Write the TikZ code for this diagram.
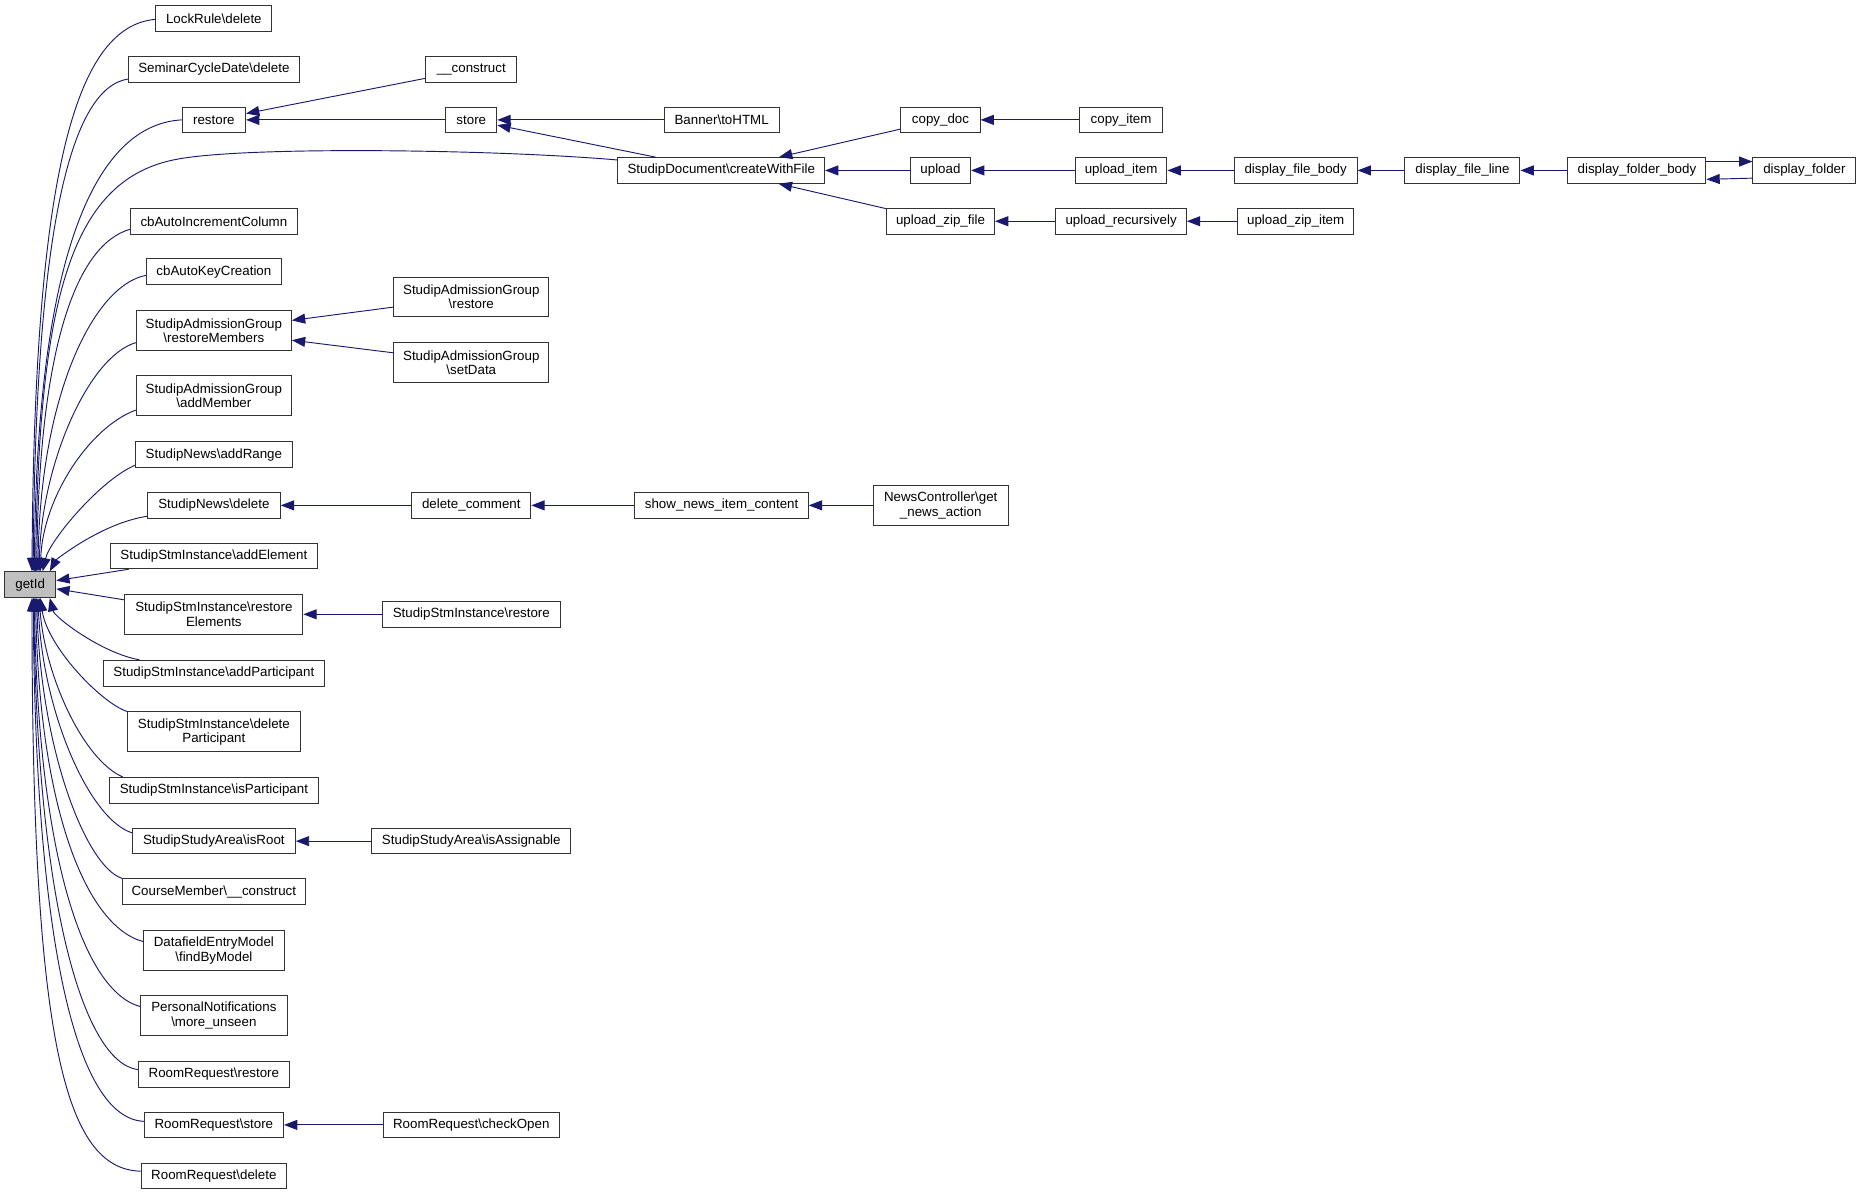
\documentclass[tikz,border=0pt]{standalone}
\usepackage{fontspec}
\setmainfont{Liberation Sans}
\usetikzlibrary{positioning,calc,arrows.meta}
\definecolor{edgeblue}{HTML}{191970}
\definecolor{focusgray}{HTML}{BFBFBF}
\newlength{\unitpx}
\setlength{\unitpx}{0.8902pt}

\begin{document}
\begin{tikzpicture}[
    x=0.8902pt, y=-0.8902pt,
    fnbox/.style={draw=black!80, line width=0.75pt, fill=white, inner sep=0pt,
        minimum height=21.6\unitpx, align=center, font=\fontsize{10}{10.7}\selectfont},
    twoline/.style={minimum height=33.5\unitpx},
    focus/.style={fill=focusgray},
    calls/.style={-{Triangle[length=10pt,width=7.5pt]}, line width=0.7pt, edgeblue}
]
    \fill[white] (0,0) rectangle (1568,1007);

    % Focus node
    \node[fnbox, focus, minimum width=43\unitpx] (getId) at (25.45,492.6) {getId};

    % Direct callers
    \node[fnbox, minimum width=97.6\unitpx] (lockrule) at (180.2,15.6) {LockRule\textbackslash delete};
    \node[fnbox, minimum width=143.9\unitpx] (semcyc) at (180.2,58.4) {SeminarCycleDate\textbackslash delete};
    \node[fnbox, minimum width=53.3\unitpx] (restore) at (180.2,101) {restore};
    \node[fnbox, minimum width=140.6\unitpx] (cbinc) at (180.2,186.5) {cbAutoIncrementColumn};
    \node[fnbox, minimum width=113.6\unitpx] (cbkey) at (180.2,229) {cbAutoKeyCreation};
    \node[fnbox, twoline, minimum width=130.6\unitpx] (resmem) at (180.2,278.5) {StudipAdmissionGroup\\\textbackslash restoreMembers};
    \node[fnbox, twoline, minimum width=130.6\unitpx] (addmem) at (180.2,333.5) {StudipAdmissionGroup\\\textbackslash addMember};
    \node[fnbox, minimum width=131.9\unitpx] (addrange) at (180.2,383) {StudipNews\textbackslash addRange};
    \node[fnbox, minimum width=111.9\unitpx] (newsdel) at (180.2,425.8) {StudipNews\textbackslash delete};
    \node[fnbox, minimum width=174.6\unitpx] (addel) at (180.2,468.4) {StudipStmInstance\textbackslash addElement};
    \node[fnbox, twoline, minimum width=149.9\unitpx] (restel) at (180.2,517.6) {StudipStmInstance\textbackslash restore\\Elements};
    \node[fnbox, minimum width=185.9\unitpx] (addpart) at (180.2,567.2) {StudipStmInstance\textbackslash addParticipant};
    \node[fnbox, twoline, minimum width=145.6\unitpx] (delpart) at (180.2,616.6) {StudipStmInstance\textbackslash delete\\Participant};
    \node[fnbox, minimum width=176.6\unitpx] (ispart) at (180.2,665.9) {StudipStmInstance\textbackslash isParticipant};
    \node[fnbox, minimum width=137.3\unitpx] (isroot) at (180.2,708.7) {StudipStudyArea\textbackslash isRoot};
    \node[fnbox, minimum width=153.9\unitpx] (cmember) at (180.2,751.3) {CourseMember\textbackslash\_\_construct};
    \node[fnbox, twoline, minimum width=118.6\unitpx] (dfmodel) at (180.2,800.8) {DatafieldEntryModel\\\textbackslash findByModel};
    \node[fnbox, twoline, minimum width=123.6\unitpx] (pnotif) at (180.2,855.7) {PersonalNotifications\\\textbackslash more\_unseen};
    \node[fnbox, minimum width=127.3\unitpx] (rrrestore) at (180.2,905.2) {RoomRequest\textbackslash restore};
    \node[fnbox, minimum width=117.3\unitpx] (rrstore) at (180.2,947.8) {RoomRequest\textbackslash store};
    \node[fnbox, minimum width=122.6\unitpx] (rrdelete) at (180.2,990.8) {RoomRequest\textbackslash delete};

    % Second level
    \node[fnbox, minimum width=76.6\unitpx] (construct) at (397.1,58.4) {\_\_construct};
    \node[fnbox, minimum width=43\unitpx] (store) at (397.1,101) {store};
    \node[fnbox, twoline, minimum width=130.6\unitpx] (agrestore) at (397.1,250.2) {StudipAdmissionGroup\\\textbackslash restore};
    \node[fnbox, twoline, minimum width=130.6\unitpx] (agsetdata) at (397.1,305.4) {StudipAdmissionGroup\\\textbackslash setData};
    \node[fnbox, minimum width=100.3\unitpx] (delcomment) at (397.1,425.8) {delete\_comment};
    \node[fnbox, minimum width=149.9\unitpx] (stmrestore) at (397.1,517.6) {StudipStmInstance\textbackslash restore};
    \node[fnbox, minimum width=167.9\unitpx] (isassign) at (397.1,708.7) {StudipStudyArea\textbackslash isAssignable};
    \node[fnbox, minimum width=148.6\unitpx] (checkopen) at (397.1,947.8) {RoomRequest\textbackslash checkOpen};

    % Third level and beyond
    \node[fnbox, minimum width=96.8\unitpx] (banner) at (608,101) {Banner\textbackslash toHTML};
    \node[fnbox, minimum width=174.1\unitpx] (cwf) at (607.7,143.6) {StudipDocument\textbackslash createWithFile};
    \node[fnbox, minimum width=146\unitpx] (shownews) at (608,425.8) {show\_news\_item\_content};
    \node[fnbox, minimum width=66.7\unitpx] (copydoc) at (792.4,101) {copy\_doc};
    \node[fnbox, minimum width=50.7\unitpx] (upload) at (792.4,143.6) {upload};
    \node[fnbox, minimum width=91\unitpx] (uploadzip) at (792.4,186.4) {upload\_zip\_file};
    \node[fnbox, twoline, minimum width=113.4\unitpx] (newsctrl) at (792.6,425.8) {NewsController\textbackslash get\\\_news\_action};
    \node[fnbox, minimum width=69.6\unitpx] (copyitem) at (944.6,101) {copy\_item};
    \node[fnbox, minimum width=77.2\unitpx] (uploaditem) at (944.6,143.6) {upload\_item};
    \node[fnbox, minimum width=109.9\unitpx] (uploadrec) at (944.6,186.4) {upload\_recursively};
    \node[fnbox, minimum width=103.5\unitpx] (filebody) at (1091.7,143.6) {display\_file\_body};
    \node[fnbox, minimum width=98.2\unitpx] (zipitem) at (1091.7,186.4) {upload\_zip\_item};
    \node[fnbox, minimum width=96.9\unitpx] (fileline) at (1232.2,143.6) {display\_file\_line};
    \node[fnbox, minimum width=116.2\unitpx] (folderbody) at (1379.2,143.6) {display\_folder\_body};
    \node[fnbox, minimum width=86.7\unitpx] (folder) at (1520.3,143.6) {display\_folder};

    % Calls into getId from above
    \draw[calls] ($(lockrule.west)+(0,0.7)$) .. controls (65,22) and (29,140) .. ($(getId.north)+(1.5,0)$);
    \draw[calls] ($(semcyc.west)+(0,8.2)$) .. controls (60,74) and (30,190) .. ($(getId.north)+(2.5,0)$);
    \draw[calls] (restore.west) .. controls (80,105) and (31,215) .. ($(getId.north)+(3.5,0)$);
    \draw[calls] ($(cwf.west)+(0,-8.8)$) .. controls (420,126) and (210,123) .. (150,134)
                 .. controls (60,150) and (33,250) .. ($(getId.north)+(4.5,0)$);
    \draw[calls] ($(cbinc.west)+(0,6.7)$) .. controls (65,206) and (33,290) .. ($(getId.north)+(5.5,0)$);
    \draw[calls] ($(cbkey.west)+(0,3)$) .. controls (80,240) and (34,330) .. ($(getId.north)+(6.5,0)$);
    \draw[calls] ($(resmem.west)+(0,10.2)$) .. controls (75,300) and (35,390) .. ($(getId.north)+(7.5,0)$);
    \draw[calls] ($(addmem.west)+(0,12)$) .. controls (75,360) and (36,420) .. ($(getId.north)+(8.5,0)$);
    \draw[calls] ($(addrange.west)+(0,9)$) .. controls (85,404) and (42,455) .. ($(getId.north)+(10.5,0)$);
    \draw[calls] ($(newsdel.west)+(0,9.2)$) .. controls (85,441) and (47,472) .. ($(getId.north)+(16.5,0)$);

    % Calls into getId from the side
    \draw[calls] (addel) -- (getId);
    \draw[calls] (restel) -- (getId);

    % Calls into getId from below
    \draw[calls] ($(addpart.north west)+(30.7,0)$) .. controls (85,550) and (46,520) .. ($(getId.south)+(16.5,0)$);
    \draw[calls] (delpart.north west) .. controls (85,592) and (40,545) .. ($(getId.south)+(8.5,0)$);
    \draw[calls] ($(ispart.north west)+(12,0)$) .. controls (70,640) and (38,570) .. ($(getId.south)+(7.5,0)$);
    \draw[calls] ($(isroot.west)+(0,-7)$) .. controls (75,690) and (36,600) .. ($(getId.south)+(6.5,0)$);
    \draw[calls] (cmember.north west) .. controls (72,730) and (34,630) .. ($(getId.south)+(5.5,0)$);
    \draw[calls] ($(dfmodel.west)+(0,-7.5)$) .. controls (72,780) and (33,680) .. ($(getId.south)+(4.5,0)$);
    \draw[calls] ($(pnotif.west)+(0,-7.7)$) .. controls (70,835) and (32,720) .. ($(getId.south)+(3.5,0)$);
    \draw[calls] ($(rrrestore.west)+(0,-4)$) .. controls (70,895) and (31,760) .. ($(getId.south)+(3,0)$);
    \draw[calls] ($(rrstore.west)+(0,-3)$) .. controls (65,942) and (30,800) .. ($(getId.south)+(2.5,0)$);
    \draw[calls] ($(rrdelete.west)+(0,-4)$) .. controls (55,985) and (27,880) .. ($(getId.south)+(1.5,0)$);

    % Other calls
    \draw[calls] (construct) -- (restore);
    \draw[calls] (store) -- (restore);
    \draw[calls] (banner) -- (store);
    \draw[calls] (cwf) -- (store);
    \draw[calls] (copydoc) -- (cwf);
    \draw[calls] (upload) -- (cwf);
    \draw[calls] (uploadzip) -- (cwf);
    \draw[calls] (copyitem) -- (copydoc);
    \draw[calls] (uploaditem) -- (upload);
    \draw[calls] (uploadrec) -- (uploadzip);
    \draw[calls] (filebody) -- (uploaditem);
    \draw[calls] (zipitem) -- (uploadrec);
    \draw[calls] (fileline) -- (filebody);
    \draw[calls] (folderbody) -- (fileline);
    \draw[calls] ($(folderbody.east)+(0,-7.5)$) -- ($(folder.west)+(0,-7.5)$);
    \draw[calls] ($(folder.west)+(0,6.5)$) -- ($(folderbody.east)+(0,7.5)$);
    \draw[calls] (agrestore) -- (resmem);
    \draw[calls] (agsetdata) -- (resmem);
    \draw[calls] (delcomment) -- (newsdel);
    \draw[calls] (shownews) -- (delcomment);
    \draw[calls] (newsctrl) -- (shownews);
    \draw[calls] (stmrestore) -- (restel);
    \draw[calls] (isassign) -- (isroot);
    \draw[calls] (checkopen) -- (rrstore);
\end{tikzpicture}
\end{document}
